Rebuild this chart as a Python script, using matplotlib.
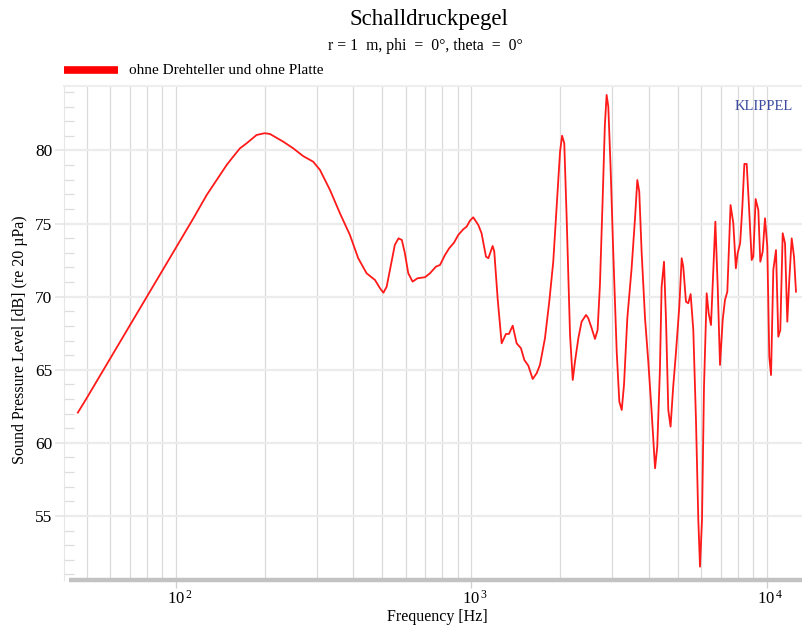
import numpy as np
import matplotlib
matplotlib.use('Agg')
from matplotlib import pyplot as plt
from matplotlib.lines import Line2D
from matplotlib.ticker import FixedLocator, FixedFormatter, NullFormatter

# serif look like the Klippel export
plt.rcParams['font.family'] = ['Liberation Serif', 'DejaVu Serif']
plt.rcParams['mathtext.fontset'] = 'custom'
plt.rcParams['mathtext.rm'] = 'Liberation Serif'
plt.rcParams['mathtext.it'] = 'Liberation Serif'

# frequency response
freq = [46.7, 50, 100, 114.8, 127.4, 141.3, 148.9, 156.7, 165.2, 173.9, 188, 200, 208.5,
        231.5, 250, 270, 292.3, 308, 333, 360, 389, 415, 443, 473, 492, 505, 518, 531.5,
        552, 568, 583, 597, 613, 634, 659, 698, 726, 760, 785, 816, 843, 875, 905, 941,
        966, 991.5, 1017, 1058, 1085, 1123, 1144, 1183, 1198, 1231, 1269, 1312, 1343,
        1383, 1426, 1475, 1514, 1562, 1616, 1667, 1710, 1778, 1839, 1897, 1958, 2000,
        2032, 2067, 2106, 2162, 2208, 2247, 2306, 2366, 2449, 2493, 2559, 2626, 2680,
        2729, 2786, 2836, 2875, 2913, 2966, 3027, 3110, 3174, 3234, 3292, 3378, 3493,
        3587, 3652, 3708, 3776, 3878, 3978, 4083, 4193, 4266, 4355, 4413, 4496, 4567,
        4649, 4732, 4830, 4933, 5065, 5160, 5224, 5335, 5432, 5533, 5649, 5768, 5874,
        5952, 6045, 6140, 6270, 6368, 6484, 6601, 6708, 6832, 6956, 7103, 7230, 7364,
        7551, 7716, 7870, 7980, 8137, 8279, 8409, 8563, 8719, 8904, 9017, 9181, 9376,
        9522, 9700, 9877, 10055, 10212, 10352, 10537, 10760, 10955, 11127, 11337, 11544,
        11750, 11935, 12160, 12380, 12574]
spl = [62.07, 63.05, 73.31, 75.35, 76.95, 78.32, 79.01, 79.58, 80.15, 80.49, 81.06, 81.18,
       81.13, 80.6, 80.15, 79.62, 79.23, 78.67, 77.3, 75.7, 74.22, 72.63, 71.6, 71.14,
       70.57, 70.27, 70.68, 71.83, 73.54, 73.99, 73.88, 72.97, 71.6, 71.03, 71.26, 71.33,
       71.6, 72.05, 72.17, 72.85, 73.31, 73.69, 74.22, 74.61, 74.79, 75.2, 75.43, 74.9,
       74.34, 72.74, 72.63, 73.47, 73.08, 69.77, 66.81, 67.45, 67.45, 68.02, 66.81, 66.47,
       65.67, 65.28, 64.37, 64.76, 65.33, 67.15, 69.66, 72.39, 76.96, 79.92, 81.01, 80.49,
       75.36, 67.38, 64.30, 65.56, 67.15, 68.29, 68.75, 68.52, 67.84, 67.11, 67.72, 70.8,
       76.5, 81.74, 83.80, 83.0, 78.78, 73.08, 66.24, 62.82, 62.25, 63.96, 68.52, 71.94,
       75.36, 77.98, 77.18, 73.08, 68.52, 65.55, 62.13, 58.26, 59.74, 64.99, 70.68, 72.39,
       68.41, 62.25, 61.11, 63.84, 66.13, 69.32, 72.63, 72.05, 69.66, 69.55, 70.18, 67.72,
       61.56, 54.73, 51.53, 54.73, 63.84, 70.23, 68.86, 68.06, 71.83, 75.13, 70.68, 65.33,
       68.41, 69.77, 70.34, 76.27, 75.02, 71.94, 72.97, 73.65, 76.16, 79.08, 79.08, 76.16,
       72.51, 72.74, 76.68, 75.93, 72.39, 73.08, 75.36, 73.42, 65.9, 64.64, 71.83, 73.19,
       67.26, 67.72, 74.34, 73.65, 68.29, 71.14, 73.99, 72.74, 70.34]

y_major = [55, 60, 65, 70, 75, 80]
x_major = [100, 1000, 10000]
x_labels = ['2', '3', '4']

W, H = 803, 625
fig = plt.figure(figsize=(W / 100, H / 100), dpi=100)
ax = fig.add_axes([64 / W, 1 - 580 / H, 1 - 64 / W, (580 - 86) / H])

ax.plot(freq, spl, color='#ff1a1a', lw=1.3, zorder=3)

ax.set_xscale('log')
ax.set_xlim(41.92, 13280)
ax.set_ylim(50.62, 84.41)

# vertical grid at every 1-2-3...9 step
minor_x = [m * 10 ** e for e in range(1, 5) for m in range(1, 10)]
ax.xaxis.set_major_locator(FixedLocator(x_major))
ax.xaxis.set_major_formatter(FixedFormatter(
    [r'$\ \ 10^{\,%s}$' % s for s in x_labels]))
ax.xaxis.set_minor_locator(FixedLocator(minor_x))
ax.xaxis.set_minor_formatter(NullFormatter())
for v in minor_x:
    ax.axvline(v, color='#dadada', lw=0.9, zorder=1)

ax.yaxis.set_major_locator(FixedLocator(y_major))
ax.yaxis.set_minor_locator(FixedLocator(np.arange(51, 85, 1)))
for v in y_major:
    ax.axhline(v, color='#ececec', lw=1.6, zorder=1)

ax.tick_params(axis='x', which='major', direction='out', length=6, width=0.9,
               color='#cfcfcf', labelsize=12, pad=1)
ax.tick_params(axis='x', which='minor', length=0)
ax.tick_params(axis='y', which='major', direction='out', length=6.5, width=1.2,
               color='#e6e6e6', labelsize=12.5, pad=2)
ax.tick_params(axis='y', which='minor', direction='in', length=7, width=0.9,
               color='#dddddd')

for s in ['right', 'bottom']:
    ax.spines[s].set_visible(False)
ax.spines['left'].set_color('#e6e6e6')
ax.spines['top'].set_color('#eeeeee')
ax.spines['top'].set_linewidth(1.5)

# thick grey bar at the bottom of the plot
fig.add_artist(Line2D([69 / W, 1.0], [1 - 580 / H, 1 - 580 / H],
                      color='#c2c2c2', lw=3.2, solid_capstyle='butt'))

fig.text(429 / W, 1 - 20 / H, 'Schalldruckpegel', ha='center', va='center', fontsize=16.5)
fig.text(425 / W, 1 - 46 / H, 'r = 1  m, phi  =  0°, theta  =  0°', ha='center',
         va='center', fontsize=11.3)

# legend entry
fig.add_artist(Line2D([64 / W, 118 / W], [1 - 70 / H, 1 - 70 / H], color='#ff0000',
                      lw=5.5, solid_capstyle='butt'))
fig.text(129 / W, 1 - 70 / H, 'ohne Drehteller und ohne Platte', ha='left',
         va='center', fontsize=11)

fig.text(793 / W, 1 - 107 / H, 'KLIPPEL', ha='right', va='center', fontsize=10.5,
         color='#3b4a9e')

fig.text(20 / W, 1 - 340 / H, 'Sound Pressure Level [dB] (re 20 µPa)', rotation=90,
         ha='center', va='center', fontsize=11.5)
fig.text(437 / W, 1 - 617 / H, 'Frequency [Hz]', ha='center', va='center', fontsize=11.5)

fig.savefig('out.png', dpi=100)
